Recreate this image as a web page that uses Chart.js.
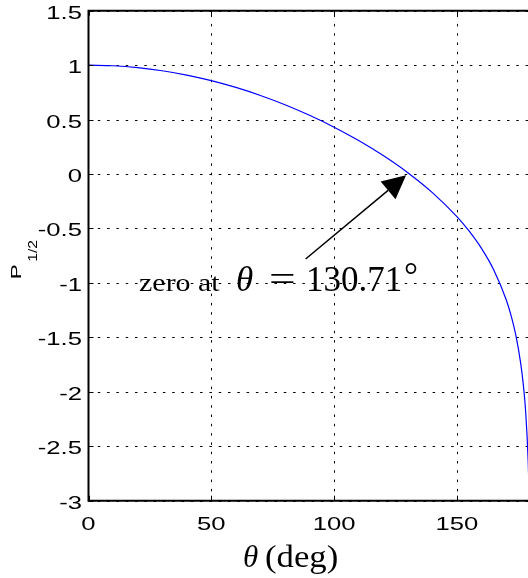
<!DOCTYPE html>
<html>
<head>
<meta charset="utf-8">
<script src="https://cdn.jsdelivr.net/npm/chart.js@4.4.1/dist/chart.umd.min.js"></script>
<style>
  html, body { margin: 0; padding: 0; background: #fff; overflow: hidden; }
  #wrap { width: 528px; height: 578px; overflow: hidden; }
</style>
</head>
<body>
<div id="wrap"><canvas id="legendreChart" width="540" height="578"></canvas></div>
<script>
'use strict';

// P_{1/2}(cos theta), values
const THETA = [0, 10, 20, 30, 40, 50, 60, 70, 80, 90, 100, 110, 120, 130, 140,
  150, 155, 160, 165, 170, 172, 174, 176, 177, 178, 179, 179.3, 179.5];
const P_HALF = [1, 0.9943, 0.9772, 0.9487, 0.9088, 0.8577, 0.7953, 0.7215, 0.6363,
  0.5394, 0.4300, 0.3073, 0.1691, 0.0120, -0.1705, -0.3917, -0.5252, -0.6832,
  -0.8804, -1.1500, -1.2958, -1.4821, -1.7428, -1.9269, -2.1858, -2.6275,
  -2.8547, -3.0690];
const X_TICKS = [0, 50, 100, 150];
const Y_TICKS = [1.5, 1, 0.5, 0, -0.5, -1, -1.5, -2, -2.5, -3];
const ZERO_AT = 130.71;

const BLACK = '#000000';
const BLUE = '#0000FF';
const SANS = '"Liberation Sans", Arial, sans-serif';
const SERIF = '"Liberation Serif", "Times New Roman", serif';

function wideText(ctx, text, x, y, sx, align) {
  ctx.save();
  ctx.translate(x, y);
  ctx.scale(sx, 1);
  ctx.textAlign = align;
  ctx.fillText(text, 0, 0);
  ctx.restore();
}

const matlabAxes = {
  id: 'matlabAxes',
  beforeDatasetsDraw(chart) {
    const { ctx, chartArea: a, scales: { x, y } } = chart;
    ctx.save();
    ctx.strokeStyle = BLACK;
    ctx.lineWidth = 1;
    ctx.setLineDash([2.5, 6.8]);
    Y_TICKS.forEach(v => {
      const py = Math.round(y.getPixelForValue(v)) + 0.5;
      ctx.beginPath();
      ctx.moveTo(a.left, py);
      ctx.lineTo(a.right, py);
      ctx.stroke();
    });
    X_TICKS.forEach(v => {
      if (v === 0) return;
      const px = Math.round(x.getPixelForValue(v)) + 0.5;
      ctx.beginPath();
      ctx.moveTo(px, a.bottom);
      ctx.lineTo(px, a.top);
      ctx.stroke();
    });
    ctx.restore();
  },
  afterDatasetsDraw(chart) {
    const { ctx, chartArea: a, scales: { x, y } } = chart;
    ctx.save();
    ctx.strokeStyle = BLACK;
    ctx.fillStyle = BLACK;

    // inward tick marks
    ctx.lineWidth = 1;
    Y_TICKS.forEach(v => {
      const py = Math.round(y.getPixelForValue(v)) + 0.5;
      ctx.beginPath();
      ctx.moveTo(a.left, py);
      ctx.lineTo(a.left + 5, py);
      ctx.stroke();
    });
    X_TICKS.forEach(v => {
      const px = Math.round(x.getPixelForValue(v)) + 0.5;
      ctx.beginPath();
      ctx.moveTo(px, a.bottom);
      ctx.lineTo(px, a.bottom - 5);
      ctx.moveTo(px, a.top);
      ctx.lineTo(px, a.top + 5);
      ctx.stroke();
    });

    // box (left, bottom, top)
    ctx.lineWidth = 2;
    ctx.beginPath();
    ctx.moveTo(a.right + 2, a.top);
    ctx.lineTo(a.left, a.top);
    ctx.lineTo(a.left, a.bottom);
    ctx.lineTo(a.right + 2, a.bottom);
    ctx.stroke();

    // tick labels
    ctx.font = '19px ' + SANS;
    ctx.textBaseline = 'alphabetic';
    Y_TICKS.forEach(v => {
      wideText(ctx, String(v), a.left - 6.5, y.getPixelForValue(v) + 8, 1.35, 'right');
    });
    X_TICKS.forEach(v => {
      wideText(ctx, String(v), x.getPixelForValue(v), a.bottom + 29.3, 1.35, 'center');
    });

    // y title P_{1/2}
    ctx.save();
    ctx.translate(a.left - 67.8, (a.top + a.bottom) / 2 + 23.6);
    ctx.rotate(-Math.PI / 2);
    ctx.font = '15px ' + SANS;
    wideText(ctx, 'P', 0, 0, 1.5, 'left');
    ctx.font = '12px ' + SANS;
    wideText(ctx, '1/2', 17.6, 16, 1.3, 'left');
    ctx.restore();

    // x title
    const tx = a.left + 154.5;
    const ty = a.bottom + 66.6;
    ctx.font = 'italic 31px ' + SERIF;
    ctx.textAlign = 'left';
    ctx.fillText('\u03b8', tx, ty);
    ctx.font = '31px ' + SERIF;
    wideText(ctx, '(deg)', tx + 22, ty, 1.12, 'left');

    // annotation arrow
    const tip = { x: x.getPixelForValue(129.3), y: y.getPixelForValue(-0.012) };
    const tail = { x: x.getPixelForValue(88.4), y: y.getPixelForValue(-0.78) };
    const dx = tip.x - tail.x, dy = tip.y - tail.y;
    const len = Math.hypot(dx, dy);
    const ux = dx / len, uy = dy / len;
    const headLen = 23.4, headHalf = 11.6;
    const bx = tip.x - ux * headLen, by = tip.y - uy * headLen;
    ctx.lineWidth = 1.5;
    ctx.beginPath();
    ctx.moveTo(tail.x, tail.y);
    ctx.lineTo(bx, by);
    ctx.stroke();
    ctx.beginPath();
    ctx.moveTo(tip.x, tip.y);
    ctx.lineTo(bx - uy * headHalf, by + ux * headHalf);
    ctx.lineTo(bx + uy * headHalf, by - ux * headHalf);
    ctx.closePath();
    ctx.fill();

    // annotation text
    const ax = x.getPixelForValue(20.6);
    const ay = y.getPixelForValue(-1.073);
    ctx.font = '26px ' + SERIF;
    wideText(ctx, 'zero at', ax, ay, 1.15, 'left');
    ctx.font = 'italic 35px ' + SERIF;
    ctx.textAlign = 'left';
    ctx.fillText('\u03b8', ax + 97, ay);
    ctx.font = '35px ' + SERIF;
    wideText(ctx, '=', ax + 130, ay, 1.35, 'left');
    ctx.textAlign = 'left';
    ctx.fillText(ZERO_AT.toFixed(2), ax + 167, ay);
    ctx.fillText('\u00b0', ax + 265, ay - 4);

    ctx.restore();
  }
};

new Chart(document.getElementById('legendreChart'), {
  type: 'line',
  data: {
    datasets: [{
      data: THETA.map((t, i) => ({ x: t, y: P_HALF[i] })),
      borderColor: BLUE,
      borderWidth: 1.2,
      pointRadius: 0,
      cubicInterpolationMode: 'monotone',
      fill: false,
    }],
  },
  options: {
    responsive: false,
    animation: false,
    devicePixelRatio: 1,
    layout: { padding: { top: 10.7, right: 9.4, left: 0, bottom: 0 } },
    plugins: { legend: { display: false }, tooltip: { enabled: false } },
    scales: {
      x: {
        type: 'linear',
        min: 0,
        max: 180,
        grid: { display: false },
        border: { display: false },
        ticks: { display: false },
        afterBuildTicks: s => { s.ticks = X_TICKS.map(v => ({ value: v })); },
        afterFit: s => { s.height = 77.3; },
      },
      y: {
        type: 'linear',
        min: -3,
        max: 1.5,
        grid: { display: false },
        border: { display: false },
        ticks: { display: false },
        afterBuildTicks: s => { s.ticks = Y_TICKS.map(v => ({ value: v })); },
        afterFit: s => { s.width = 88.5; },
      },
    },
  },
  plugins: [matlabAxes],
});
</script>
</body>
</html>
